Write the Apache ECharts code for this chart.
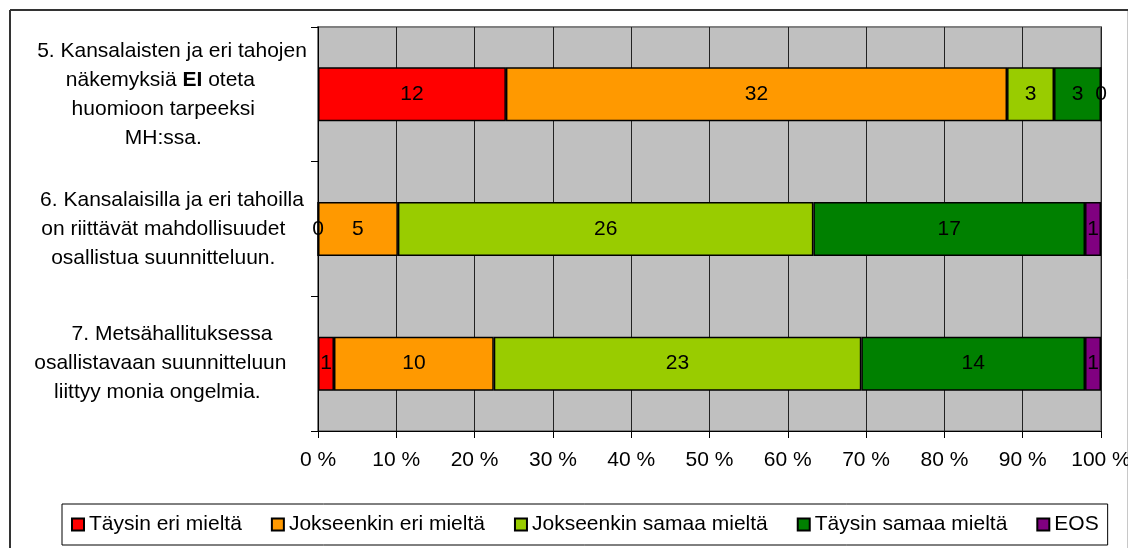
<!DOCTYPE html>
<html>
<head>
<meta charset="utf-8">
<script src="https://cdn.jsdelivr.net/npm/echarts@6/dist/echarts.min.js"></script>
<style>
  html, body { margin: 0; padding: 0; background: #fff; }
  #main { width: 1128px; height: 548px; }
</style>
</head>
<body>
<div id="main"></div>
<script>
// vastaukset (lukumäärät) kysymyksittäin
const categories = [
  '5. Kansalaisten ja eri tahojen\nnäkemyksiä EI oteta    \nhuomioon tarpeeksi   \nMH:ssa.   ',
  '6. Kansalaisilla ja eri tahoilla\non riittävät mahdollisuudet   \nosallistua suunnitteluun.   ',
  '7. Metsähallituksessa\nosallistavaan suunnitteluun    \nliittyy monia ongelmia.     '
];
const seriesNames = ['Täysin eri mieltä', 'Jokseenkin eri mieltä', 'Jokseenkin samaa mieltä', 'Täysin samaa mieltä', 'EOS'];
const colors = ['#ff0000', '#ff9900', '#99cc00', '#008000', '#800080'];
const taysinEri = [12, 0, 1];
const jokseenkinEri = [32, 5, 10];
const jokseenkinSamaa = [3, 26, 23];
const taysinSamaa = [3, 17, 14];
const eos = [0, 1, 1];
const xTicks = [0, 10, 20, 30, 40, 50, 60, 70, 80, 90, 100];

const counts = [taysinEri, jokseenkinEri, jokseenkinSamaa, taysinSamaa, eos];
const totals = categories.map((c, i) => counts.reduce((s, arr) => s + arr[i], 0));

const font = 'Liberation Sans, Arial, sans-serif';

const chart = echarts.init(document.getElementById('main'));
chart.setOption({
  backgroundColor: '#fff',
  textStyle: { fontFamily: font },
  animation: false,
  grid: {
    left: 318, right: 27, top: 27, bottom: 117,
    outerBoundsMode: 'none',
    show: true,
    backgroundColor: '#c0c0c0',
    borderColor: '#808080',
    borderWidth: 2
  },
  legend: {
    left: 62, top: 504,
    padding: [10, 9],
    borderColor: '#000',
    borderWidth: 1,
    itemGap: 29,
    itemWidth: 12,
    itemHeight: 12,
    icon: 'rect',
    selectedMode: false,
    textStyle: { fontSize: 21, color: '#000', fontFamily: font },
    data: seriesNames
  },
  xAxis: {
    type: 'value',
    min: xTicks[0],
    max: xTicks[xTicks.length - 1],
    interval: 10,
    axisLine: { show: true, lineStyle: { color: '#000', width: 1 } },
    axisTick: { show: true, length: 7, lineStyle: { color: '#000' } },
    axisLabel: { formatter: '{value} %', fontSize: 21, color: '#000', margin: 19, fontFamily: font, hideOverlap: false },
    splitLine: { show: true, lineStyle: { color: '#222', width: 1 } }
  },
  yAxis: {
    type: 'category',
    inverse: true,
    data: categories,
    axisLine: { show: true, lineStyle: { color: '#000', width: 1 } },
    axisTick: { show: true, length: 7, lineStyle: { color: '#000' } },
    axisLabel: {
      align: 'center',
      margin: 146,
      fontSize: 21,
      lineHeight: 29,
      color: '#000',
      fontFamily: font,
      formatter: v => v.replace(' EI ', ' {b|EI} '),
      rich: {
        b: { fontWeight: 'bold', fontSize: 21, lineHeight: 29, color: '#000', fontFamily: font }
      }
    },
    splitLine: { show: false }
  },
  series: seriesNames.map((name, k) => ({
    name: name,
    type: 'bar',
    stack: 'total',
    barWidth: 54,
    itemStyle: { color: colors[k], borderColor: '#000', borderWidth: 1.5 },
    label: {
      show: true,
      position: 'inside',
      color: '#000',
      fontSize: 21,
      fontFamily: font,
      formatter: p => counts[k][p.dataIndex]
    },
    data: counts[k].map((v, i) => v / totals[i] * 100)
  })),
  graphic: [
    { type: 'line', shape: { x1: 10, y1: 10, x2: 1128, y2: 10 }, style: { stroke: '#333', lineWidth: 2 } },
    { type: 'line', shape: { x1: 10, y1: 10, x2: 10, y2: 548 }, style: { stroke: '#333', lineWidth: 2 } },
    { type: 'line', shape: { x1: 1127.5, y1: 11, x2: 1127.5, y2: 548 }, style: { stroke: '#c8c8c8', lineWidth: 1 } }
  ]
});
</script>
</body>
</html>
